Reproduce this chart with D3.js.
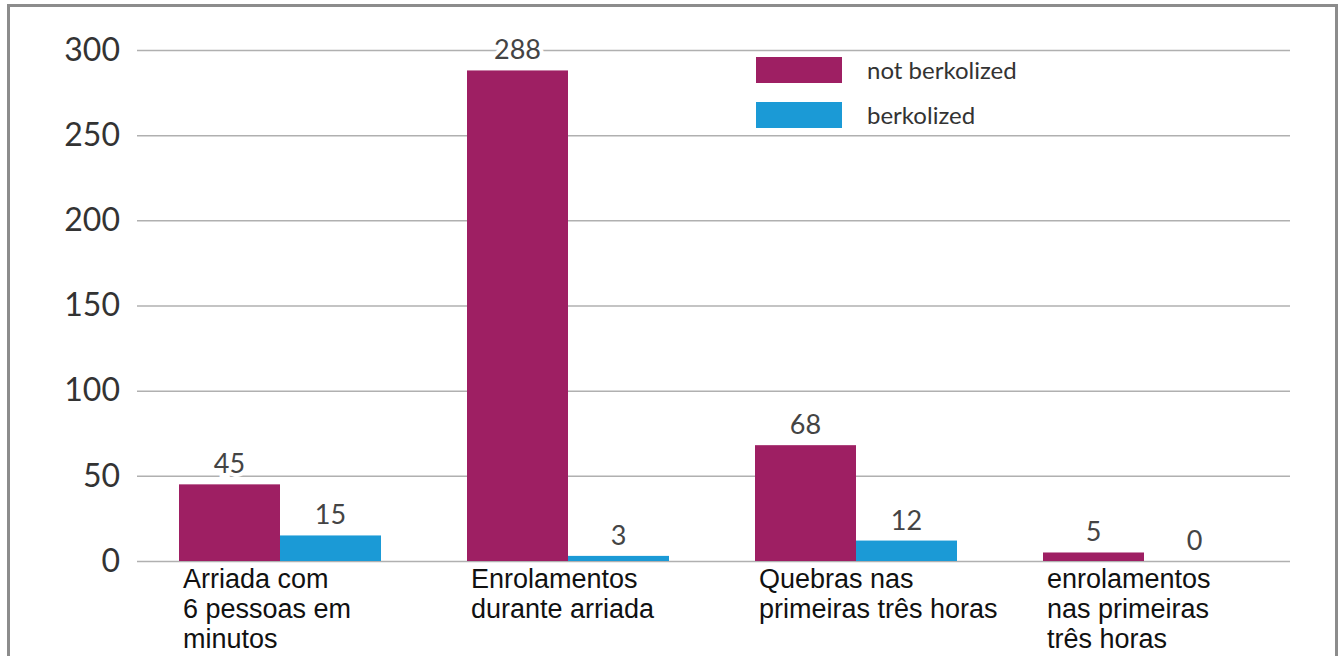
<!DOCTYPE html>
<html>
<head>
<meta charset="utf-8">
<script src="https://cdn.jsdelivr.net/npm/d3@7"></script>
<style>
    html, body { margin: 0; padding: 0; background: #fff; }
    #vis-container { width: 1341px; height: 656px; overflow: hidden; }
</style>
</head>
<body>
<div id="vis-container"></div>
<script>
// Chart data
const categories = ["arriada", "enrolDurante", "quebras", "enrolPrimeiras"];
const categoryLabels = [
    ["Arriada com", "6 pessoas em", "minutos"],
    ["Enrolamentos", "durante arriada"],
    ["Quebras nas", "primeiras três horas"],
    ["enrolamentos", "nas primeiras", "três horas"]
];
const seriesNames = ["not berkolized", "berkolized"];
const notBerkolized = [45, 288, 68, 5];
const berkolized = [15, 3, 12, 0];
const yTicks = [0, 50, 100, 150, 200, 250, 300];

function main()
{
    const width = 1341;
    const height = 656;

    // Plot area
    const plot = { left: 137, right: 1290, top: 50, bottom: 561 };

    const colors = ["#9e1f63", "#1b9ad6"];
    const seriesValues = [notBerkolized, berkolized];

    const svg = d3.select("#vis-container")
        .append("svg")
        .attr("width", width)
        .attr("height", height);

    // Outer frame (bottom edge runs off the picture)
    svg.append("rect")
        .attr("x", 8.5)
        .attr("y", 5.5)
        .attr("width", 1328)
        .attr("height", 700)
        .attr("fill", "none")
        .attr("stroke", "#8c8c8c")
        .attr("stroke-width", 3);

    // Scales
    const yScale = d3.scaleLinear()
        .domain([0, 300])
        .range([plot.bottom, plot.top]);

    const x0 = d3.scaleBand()
        .domain(categories)
        .range([179, 1245])
        .paddingInner(0.2986)
        .paddingOuter(0);

    const x1 = d3.scaleBand()
        .domain(seriesNames)
        .range([0, x0.bandwidth()]);

    // Y axis with gridlines
    const yAxis = d3.axisLeft(yScale)
        .tickValues(yTicks)
        .tickSize(-(plot.right - plot.left))
        .tickPadding(17);

    const yAxisG = svg.append("g")
        .attr("transform", `translate(${plot.left}, 0)`)
        .call(yAxis);

    yAxisG.select(".domain").remove();
    yAxisG.selectAll(".tick line")
        .attr("stroke", "#b0b0b0")
        .attr("stroke-width", 1.5);
    yAxisG.selectAll(".tick text")
        .attr("fill", "#333")
        .style("font-family", "Lato, 'Open Sans', sans-serif")
        .style("font-size", "32px");

    // Bars, grouped by category
    const groups = svg.append("g")
        .selectAll("g")
        .data(categories)
        .enter()
        .append("g")
        .attr("transform", d => `translate(${x0(d)}, 0)`);

    groups.selectAll("rect")
        .data((d, i) => seriesNames.map((s, j) => ({ series: s, value: seriesValues[j][i], idx: j })))
        .enter()
        .append("rect")
        .attr("x", d => x1(d.series))
        .attr("y", d => yScale(d.value))
        .attr("width", x1.bandwidth())
        .attr("height", d => yScale(0) - yScale(d.value))
        .attr("fill", d => colors[d.idx]);

    // Value labels above the bars
    groups.selectAll("text.value")
        .data((d, i) => seriesNames.map((s, j) => ({ series: s, value: seriesValues[j][i] })))
        .enter()
        .append("text")
        .attr("class", "value")
        .attr("x", d => x1(d.series) + x1.bandwidth() / 2)
        .attr("y", d => yScale(d.value) - 11)
        .attr("text-anchor", "middle")
        .attr("fill", "#444")
        .attr("stroke", "#fff")
        .attr("stroke-width", 8)
        .attr("paint-order", "stroke")
        .style("font-family", "Lato, 'Open Sans', sans-serif")
        .style("font-size", "27px")
        .text(d => d.value);

    // Category labels, left aligned under each group
    const catText = svg.append("g")
        .selectAll("text")
        .data(categories)
        .enter()
        .append("text")
        .attr("x", d => x0(d) + 4)
        .attr("y", 588)
        .attr("fill", "#111")
        .style("font-family", "'Liberation Sans', Arial, sans-serif")
        .style("font-size", "27px");

    catText.selectAll("tspan")
        .data((d, i) => categoryLabels[i])
        .enter()
        .append("tspan")
        .attr("x", function () { return this.parentNode.getAttribute("x"); })
        .attr("dy", (d, i) => i === 0 ? 0 : 30)
        .text(d => d);

    // Legend
    const legend = svg.append("g")
        .attr("transform", "translate(756, 57)");

    const legendItems = legend.selectAll("g")
        .data(seriesNames)
        .enter()
        .append("g")
        .attr("transform", (d, i) => `translate(0, ${i * 45})`);

    legendItems.append("rect")
        .attr("width", 86)
        .attr("height", 26)
        .attr("fill", (d, i) => colors[i]);

    legendItems.append("text")
        .attr("x", 111)
        .attr("y", 22)
        .attr("fill", "#333")
        .style("font-family", "Lato, 'Open Sans', sans-serif")
        .style("font-size", "24px")
        .text(d => d);
}

document.addEventListener("DOMContentLoaded", main);
</script>
</body>
</html>
